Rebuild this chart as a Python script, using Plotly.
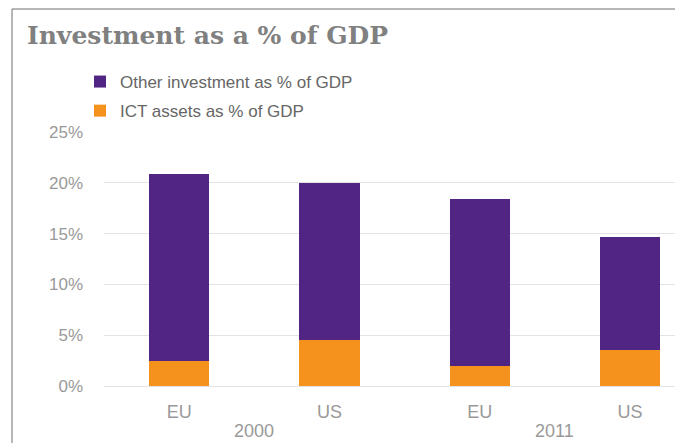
import plotly.graph_objects as go

years = ["2000", "2000", "2011", "2011"]
regions = ["EU", "US", "EU", "US"]
ict_assets = [2.5, 4.5, 2.0, 3.5]
other_investment = [18.4, 15.5, 16.4, 11.2]
y_ticks = [0, 5, 10, 15, 20, 25]
y_tick_labels = [f"{v}%" for v in y_ticks]

PURPLE = "#502584"
ORANGE = "#F5921E"

# the page body has an 8px margin, so page pixel p sits at figure pixel p - 8
OFF = 8
W, H = 683, 443
L, R, T, B = 104 - OFF, W - (678 - OFF), 132 - OFF, H - (386 - OFF)
pw = W - L - R
ph = H - T - B


def px_x(p):
    return (p - OFF - L) / pw


def px_y(p):
    return (H - B - (p - OFF)) / ph


xpos = list(range(len(regions)))

fig = go.Figure()
fig.add_trace(go.Bar(
    x=xpos, y=ict_assets, name="ICT assets as % of GDP",
    marker=dict(color=ORANGE, line=dict(width=0)), width=0.4,
    legendgroup="b", legendrank=2,
))
fig.add_trace(go.Bar(
    x=xpos, y=other_investment, name="Other investment as % of GDP",
    marker=dict(color=PURPLE, line=dict(width=0)), width=0.4,
    legendgroup="a", legendrank=1,
))

# year group labels centred under their bars
annotations = []
for yr in dict.fromkeys(years):
    idx = [i for i, v in enumerate(years) if v == yr]
    annotations.append(dict(
        x=sum(idx) / len(idx), xref="x", y=px_y(431), yref="paper",
        text=yr, showarrow=False, xanchor="center", yanchor="middle",
        font=dict(size=18, color="#999999", family="Liberation Sans, Arial, sans-serif"),
    ))

fig.update_layout(
    width=W, height=H,
    margin=dict(l=L, r=R, t=T, b=B, autoexpand=False),
    paper_bgcolor="white", plot_bgcolor="white",
    barmode="stack",
    font=dict(family="Liberation Sans, Arial, sans-serif", color="#999999"),
    title=dict(
        text="Investment as a % of GDP",
        font=dict(family="DejaVu Serif", size=25, color="#808080", weight="bold"),
        x=(27 - OFF) / W, xanchor="left", xref="container",
        y=1 - (35 - OFF) / H, yanchor="middle", yref="container",
    ),
    legend=dict(
        x=px_x(80), y=px_y(64), xanchor="left", yanchor="top",
        traceorder="grouped",
        tracegroupgap=4,
        font=dict(size=17, color="#666666", family="Liberation Sans, Arial, sans-serif"),
        bgcolor="rgba(0,0,0,0)",
        itemwidth=30,
    ),
    xaxis=dict(
        range=[-0.5, -0.5 + pw / 150.3],
        tickvals=xpos,
        ticktext=regions,
        showline=False,
        zeroline=False,
        ticks="",
        ticklabelstandoff=13,
        tickfont=dict(size=18, color="#999999"),
        showgrid=False,
    ),
    yaxis=dict(
        range=[0, 25],
        tickvals=y_ticks,
        ticktext=y_tick_labels,
        showgrid=True, gridcolor="#E3E3E3", gridwidth=1,
        zeroline=True, zerolinecolor="#E3E3E3", zerolinewidth=1,
        showline=False,
        ticks="",
        ticklabelstandoff=20,
        tickfont=dict(size=17, color="#999999"),
    ),
    annotations=annotations,
    shapes=[dict(
        type="rect", xref="paper", yref="paper",
        x0=px_x(12), x1=px_x(678), y0=-0.4, y1=px_y(9),
        line=dict(color="#6E6E6E", width=1), fillcolor="rgba(0,0,0,0)",
        layer="below",
    )],
)

fig.write_html("out.html")
